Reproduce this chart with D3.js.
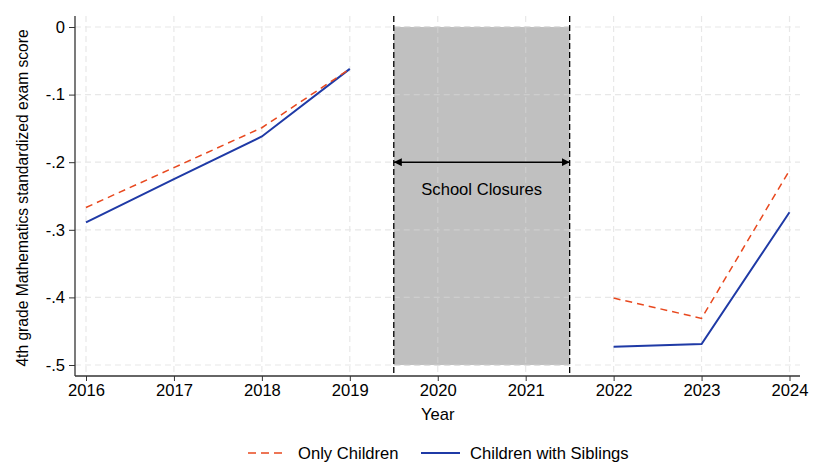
<!DOCTYPE html>
<html><head><meta charset="utf-8">
<script src="https://cdn.jsdelivr.net/npm/d3@7"></script>
<style>body{margin:0;background:#fff}svg{display:block}text{font-family:"Liberation Sans",Arial,sans-serif}</style>
</head><body>
<svg id="c" width="819" height="467"></svg>
<script>
const years = [2016, 2017, 2018, 2019, 2022, 2023, 2024];
const onlyChildren = [-0.267, -0.208, -0.149, -0.062, -0.401, -0.431, -0.212];
const withSiblings = [-0.289, -0.225, -0.162, -0.062, -0.473, -0.469, -0.274];
const xTicks = [2016, 2017, 2018, 2019, 2020, 2021, 2022, 2023, 2024];
const yTicks = [0, -0.1, -0.2, -0.3, -0.4, -0.5];
const yTickLabels = ["0", "-.1", "-.2", "-.3", "-.4", "-.5"];
const closure = [2019.5, 2021.5];

(function () {
const svg = d3.select("#c");
const x = d3.scaleLinear().domain([2016, 2024]).range([86, 789.5]);
const y = d3.scaleLinear().domain([0, -0.5]).range([27, 365]);
const L = 75, R = 800, T = 16, B = 376;
const FS = 16.6;

// grid
svg.append("g").selectAll("line").data(yTicks).join("line")
  .attr("x1", L).attr("x2", R).attr("y1", d => y(d)).attr("y2", d => y(d))
  .attr("stroke", "#e8e8e8").attr("stroke-width", 1.2).attr("stroke-dasharray", "6,4");
svg.append("g").selectAll("line").data(xTicks).join("line")
  .attr("y1", T).attr("y2", B).attr("x1", d => x(d)).attr("x2", d => x(d))
  .attr("stroke", "#e8e8e8").attr("stroke-width", 1.2).attr("stroke-dasharray", "6,4");

// shaded closure
svg.append("rect").attr("x", x(closure[0])).attr("width", x(closure[1]) - x(closure[0]))
  .attr("y", y(0)).attr("height", y(-0.5) - y(0)).attr("fill", "#c0c0c0");
svg.append("g").selectAll("line").data(yTicks).join("line")
  .attr("x1", x(closure[0])).attr("x2", x(closure[1])).attr("y1", d => y(d)).attr("y2", d => y(d))
  .attr("stroke", "#cdcdcd").attr("stroke-width", 1.2).attr("stroke-dasharray", "6,4");
svg.append("g").selectAll("line").data([2020, 2021]).join("line")
  .attr("y1", y(0)).attr("y2", y(-0.5)).attr("x1", d => x(d)).attr("x2", d => x(d))
  .attr("stroke", "#cdcdcd").attr("stroke-width", 1.2).attr("stroke-dasharray", "6,4");

// vertical dashed lines
svg.append("g").selectAll("line").data(closure).join("line")
  .attr("x1", d => x(d)).attr("x2", d => x(d)).attr("y1", T).attr("y2", B)
  .attr("stroke", "#000").attr("stroke-width", 1.3).attr("stroke-dasharray", "6,3");

// arrow
const defs = svg.append("defs");
defs.append("marker").attr("id", "ah").attr("viewBox", "0 0 10 10").attr("refX", 10).attr("refY", 5)
  .attr("markerWidth", 8).attr("markerHeight", 8).attr("orient", "auto-start-reverse").attr("markerUnits", "userSpaceOnUse")
  .append("path").attr("d", "M0,0L10,5L0,10z").attr("fill", "#000");
svg.append("line").attr("x1", x(closure[0])).attr("x2", x(closure[1])).attr("y1", y(-0.2)).attr("y2", y(-0.2))
  .attr("stroke", "#000").attr("stroke-width", 1.6)
  .attr("marker-start", "url(#ah)").attr("marker-end", "url(#ah)");
svg.append("text").attr("x", (x(closure[0]) + x(closure[1])) / 2).attr("y", y(-0.2) + 33)
  .attr("text-anchor", "middle").attr("font-size", FS).text("School Closures");

// axes
const yAxis = d3.axisLeft(y).tickValues(yTicks).tickFormat((d, i) => yTickLabels[i]).tickSize(6).tickPadding(4);
const gy = svg.append("g").attr("transform", `translate(${L},0)`).call(yAxis);
gy.select(".domain").attr("d", `M0,${T}V${B}`).attr("stroke", "#333").attr("stroke-width", 1.3);
gy.selectAll(".tick line").attr("stroke", "#333");
gy.selectAll(".tick text").attr("font-size", FS).attr("font-family", '"Liberation Sans",Arial,sans-serif').attr("fill", "#000");

const xAxis = d3.axisBottom(x).tickValues(xTicks).tickFormat(d3.format("d")).tickSize(5).tickPadding(3);
const gx = svg.append("g").attr("transform", `translate(0,${B})`).call(xAxis);
gx.select(".domain").attr("d", `M${L},0H${R}`).attr("stroke", "#333").attr("stroke-width", 1.3);
gx.selectAll(".tick line").attr("stroke", "#333");
gx.selectAll(".tick text").attr("font-size", FS).attr("font-family", '"Liberation Sans",Arial,sans-serif').attr("fill", "#000");

// lines
const pre = (arr) => years.map((yr, i) => [yr, arr[i]]).filter(d => d[0] <= 2019);
const post = (arr) => years.map((yr, i) => [yr, arr[i]]).filter(d => d[0] >= 2022);
const line = d3.line().x(d => x(d[0])).y(d => y(d[1]));
const ORANGE = "#e8481e", BLUE = "#1f3aa6";
[pre, post].forEach(f => {
  svg.append("path").attr("d", line(f(withSiblings))).attr("fill", "none").attr("stroke", BLUE).attr("stroke-width", 2);
  svg.append("path").attr("d", line(f(onlyChildren))).attr("fill", "none").attr("stroke", ORANGE).attr("stroke-width", 1.5).attr("stroke-dasharray", "7,5");
});

// labels
svg.append("text").attr("x", x(2020)).attr("y", 420).attr("text-anchor", "middle").attr("font-size", FS).text("Year");
svg.append("text").attr("transform", `translate(28,${(T + B) / 2 + 2}) rotate(-90)`).attr("text-anchor", "middle")
  .attr("font-size", 15.6).text("4th grade Mathematics standardized exam score");

// legend
const lg = svg.append("g");
lg.append("line").attr("x1", 248).attr("x2", 287).attr("y1", 453).attr("y2", 453).attr("stroke", ORANGE).attr("stroke-width", 1.5).attr("stroke-dasharray", "8,5");
lg.append("text").attr("x", 298).attr("y", 459).attr("font-size", FS).text("Only Children");
lg.append("line").attr("x1", 421).attr("x2", 460).attr("y1", 453).attr("y2", 453).attr("stroke", BLUE).attr("stroke-width", 2);
lg.append("text").attr("x", 470).attr("y", 459).attr("font-size", FS).text("Children with Siblings");
})();
</script>
</body></html>
